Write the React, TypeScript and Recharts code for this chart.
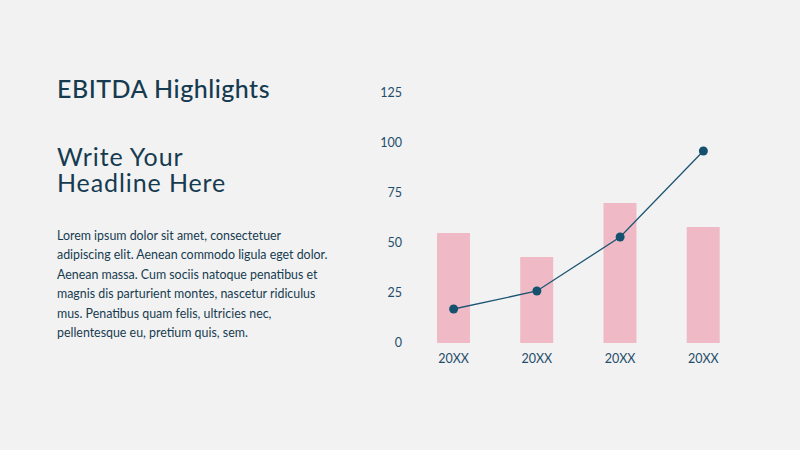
import React from "react";
import { Bar, ComposedChart, Line, XAxis, YAxis } from "recharts";

const categories = ["20XX", "20XX", "20XX", "20XX"];
const barValues = [55, 43, 70, 58];
const lineValues = [17, 26, 53, 96];
const yTicks = [0, 25, 50, 75, 100, 125];

const data = categories.map((name, i) => ({
  name,
  bar: barValues[i],
  line: lineValues[i],
}));

const ink = "#163b50";
const tickColor = "#1f4d6b";

export default function App() {
  return (
    <div
      style={{
        position: "absolute",
        left: 0,
        top: 0,
        width: 800,
        height: 450,
        background: "#f2f2f2",
        fontFamily: "Lato, 'Open Sans', sans-serif",
        color: ink,
        overflow: "hidden",
      }}
    >
      <div
        style={{
          position: "absolute",
          left: 57,
          top: 72.5,
          fontSize: 25,
          lineHeight: 1.2,
          letterSpacing: 0.5,
          fontWeight: 500,
        }}
      >
        EBITDA Highlights
      </div>
      <div
        style={{
          position: "absolute",
          left: 57,
          top: 143,
          fontSize: 25,
          lineHeight: "26px",
          letterSpacing: 0.9,
        }}
      >
        <div style={{ height: 26 }}>Write Your</div>
        <div style={{ height: 26 }}>Headline Here</div>
      </div>
      <div
        style={{
          position: "absolute",
          left: 57,
          top: 225.5,
          fontSize: 12.4,
          lineHeight: "19.6px",
          whiteSpace: "nowrap",
        }}
      >
        Lorem ipsum dolor sit amet, consectetuer
        <br />
        adipiscing elit. Aenean commodo ligula eget dolor.
        <br />
        Aenean massa. Cum sociis natoque penatibus et
        <br />
        magnis dis parturient montes, nascetur ridiculus
        <br />
        mus. Penatibus quam felis, ultricies nec,
        <br />
        pellentesque eu, pretium quis, sem.
      </div>

      <div style={{ position: "absolute", left: 360, top: 70 }}>
        <ComposedChart
          width={420}
          height={310}
          data={data}
          margin={{ top: 23, right: 35, bottom: 0, left: 0 }}
          barCategoryGap="30%"
        >
          <XAxis
            dataKey="name"
            axisLine={false}
            tickLine={false}
            height={37}
            tickMargin={5}
            tick={{ fill: tickColor, fontSize: 12.5, fontFamily: "Lato" }}
          />
          <YAxis
            domain={[0, 125]}
            ticks={yTicks}
            axisLine={false}
            tickLine={false}
            width={52}
            tickMargin={4}
            tick={{ fill: tickColor, fontSize: 12.5, fontFamily: "Lato" }}
          />
          <Bar dataKey="bar" fill="#efbac5" isAnimationActive={false} />
          <Line
            type="linear"
            dataKey="line"
            stroke="#1d5573"
            strokeWidth={1.3}
            dot={{ r: 4.5, fill: "#15516f", stroke: "#15516f", strokeWidth: 0 }}
            isAnimationActive={false}
          />
        </ComposedChart>
      </div>
    </div>
  );
}
